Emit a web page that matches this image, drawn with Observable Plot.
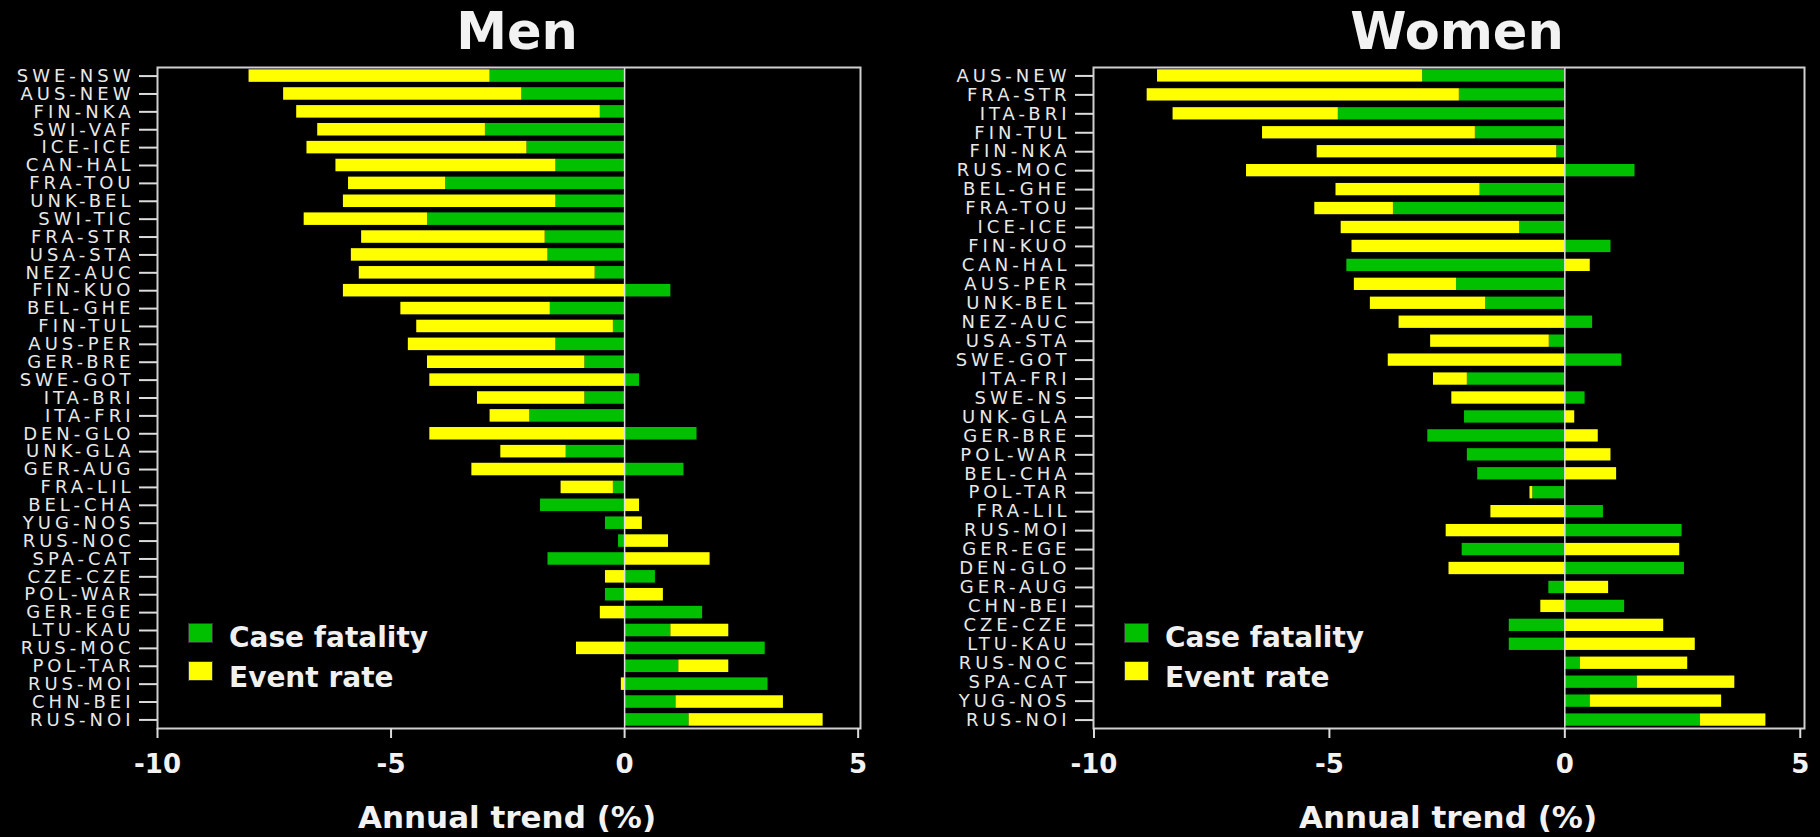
<!DOCTYPE html>
<html>
<head>
<meta charset="utf-8">
<script src="https://cdn.jsdelivr.net/npm/d3@7"></script>
<script src="https://cdn.jsdelivr.net/npm/@observablehq/plot@0.6"></script>
<style>
  html, body { margin: 0; padding: 0; background: #000; }
  #wrap { position: relative; width: 1820px; height: 837px; background: #000; overflow: hidden; font-family: "DejaVu Sans", sans-serif; }
  .panel { position: absolute; top: 0; }
  .title { position: absolute; width: 500px; text-align: center; color: #f2f2f2; font-weight: bold; font-size: 51px; line-height: 1; }
  .xlab { position: absolute; width: 600px; text-align: center; color: #f2f2f2; font-weight: bold; font-size: 31px; line-height: 1.1; }
  .leg { position: absolute; color: #f0f0f0; font-weight: bold; font-size: 28px; line-height: 1; white-space: nowrap; }
  .sw { position: absolute; width: 25px; height: 20px; box-sizing: border-box; border: 1px solid #333; }
  g[aria-label="y-axis tick label"] text { letter-spacing: 4px; }
</style>
</head>
<body>
<div id="wrap"></div>
<script>
// ---- Data ----
const menCentres = ["SWE-NSW","AUS-NEW","FIN-NKA","SWI-VAF","ICE-ICE","CAN-HAL","FRA-TOU","UNK-BEL","SWI-TIC","FRA-STR","USA-STA","NEZ-AUC","FIN-KUO","BEL-GHE","FIN-TUL","AUS-PER","GER-BRE","SWE-GOT","ITA-BRI","ITA-FRI","DEN-GLO","UNK-GLA","GER-AUG","FRA-LIL","BEL-CHA","YUG-NOS","RUS-NOC","SPA-CAT","CZE-CZE","POL-WAR","GER-EGE","LTU-KAU","RUS-MOC","POL-TAR","RUS-MOI","CHN-BEI","RUS-NOI"];
const menCaseFatality = [-2.88,-2.20,-0.52,-2.98,-2.09,-1.47,-3.83,-1.47,-4.22,-1.70,-1.64,-0.63,0.99,-1.59,-0.24,-1.47,-0.85,0.32,-0.85,-2.03,1.55,-1.25,1.27,-0.24,-1.80,-0.41,-0.13,-1.64,0.66,-0.41,1.67,0.99,3.01,1.16,3.07,1.10,1.38];
const menEventRate = [-5.16,-5.10,-6.50,-3.59,-4.71,-4.71,-2.08,-4.55,-2.64,-3.93,-4.21,-5.05,-6.02,-3.20,-4.21,-3.16,-3.37,-4.17,-2.30,-0.85,-4.17,-1.40,-3.27,-1.12,0.32,0.38,0.94,1.83,-0.41,0.83,-0.52,1.24,-1.03,1.07,-0.07,2.30,2.87];

const womenCentres = ["AUS-NEW","FRA-STR","ITA-BRI","FIN-TUL","FIN-NKA","RUS-MOC","BEL-GHE","FRA-TOU","ICE-ICE","FIN-KUO","CAN-HAL","AUS-PER","UNK-BEL","NEZ-AUC","USA-STA","SWE-GOT","ITA-FRI","SWE-NS","UNK-GLA","GER-BRE","POL-WAR","BEL-CHA","POL-TAR","FRA-LIL","RUS-MOI","GER-EGE","DEN-GLO","GER-AUG","CHN-BEI","CZE-CZE","LTU-KAU","RUS-NOC","SPA-CAT","YUG-NOS","RUS-NOI"];
const womenCaseFatality = [-3.02,-2.24,-4.81,-1.90,-0.17,1.49,-1.80,-3.64,-0.96,0.98,-4.63,-2.30,-1.68,0.59,-0.33,1.21,-2.07,0.43,-2.13,-2.91,-2.07,-1.85,-0.68,0.82,2.49,-2.18,2.54,-0.34,1.27,-1.18,-1.18,0.33,1.54,0.54,2.88];
const womenEventRate = [-5.63,-6.63,-3.51,-4.52,-5.09,-6.76,-3.06,-1.67,-3.79,-4.52,0.54,-2.17,-2.45,-3.52,-2.52,-3.75,-0.72,-2.40,0.21,0.71,0.98,1.10,-0.06,-1.57,-2.52,2.44,-2.46,0.93,-0.51,2.10,2.77,2.28,2.07,2.79,1.39];

const xTicks = [-10, -5, 0, 5];
const seriesNames = ["Case fatality", "Event rate"];
const seriesColors = ["#00c000", "#ffff00"];

function rows(centres, fatality, events) {
  return centres.flatMap((c, i) => [
    {centre: c, series: seriesNames[0], value: fatality[i]},
    {centre: c, series: seriesNames[1], value: events[i]}
  ]);
}

function panel({centres, fatality, events, width, marginLeft, marginRight, xDomain, padInner, padOuter}) {
  return Plot.plot({
    width, height: 837,
    marginTop: 67, marginBottom: 109, marginLeft, marginRight,
    style: {background: "#000", color: "#e6e6e6", overflow: "visible"},
    x: {domain: xDomain, ticks: xTicks},
    y: {domain: centres, paddingInner: padInner, paddingOuter: padOuter, round: false},
    color: {domain: seriesNames, range: seriesColors},
    marks: [
      Plot.barX(rows(centres, fatality, events), Plot.stackX({
        y: "centre", x: "value", fill: "series", order: null
      })),
      Plot.ruleX([0], {stroke: "#e0e0e0", strokeWidth: 1.5}),
      Plot.frame({stroke: "#cfcfcf", strokeWidth: 2}),
      Plot.axisY({
        tickSize: 18, tickPadding: 5, stroke: "#dcdcdc", strokeWidth: 2,
        fontSize: 18, fontFamily: "DejaVu Sans", fill: "#e8e8e8", label: null
      }),
      Plot.axisX({
        ticks: xTicks, tickSize: 10, tickPadding: 16, stroke: "#dcdcdc", strokeWidth: 2,
        tickFormat: d => String(d), fontSize: 26, fontWeight: "bold",
        fontFamily: "DejaVu Sans", fill: "#f2f2f2", label: null
      })
    ]
  });
}

const wrap = document.getElementById("wrap");

const men = panel({centres: menCentres, fatality: menCaseFatality, events: menEventRate,
  width: 900, marginLeft: 157, marginRight: 40, xDomain: [-10, 5.05], padInner: 0.3, padOuter: 0.13});
men.classList.add("panel"); men.style.left = "0px";
wrap.appendChild(men);

const women = panel({centres: womenCentres, fatality: womenCaseFatality, events: womenEventRate,
  width: 920, marginLeft: 193, marginRight: 16, xDomain: [-10.01, 5.09], padInner: 0.35, padOuter: 0.12});
women.classList.add("panel"); women.style.left = "900px";
wrap.appendChild(women);

function addText(cls, text, left, top) {
  const d = document.createElement("div");
  d.className = cls; d.textContent = text;
  d.style.left = left + "px"; d.style.top = top + "px";
  wrap.appendChild(d);
}
addText("title", "Men", 517 - 250, 6);
addText("title", "Women", 1457 - 250, 6);
addText("xlab", "Annual trend (%)", 507 - 300, 800);
addText("xlab", "Annual trend (%)", 1448 - 300, 800);

function legend(x0, textX) {
  seriesNames.forEach((name, i) => {
    const s = document.createElement("div");
    s.className = "sw";
    s.style.left = x0 + "px"; s.style.top = (623 + i * 38) + "px";
    s.style.background = seriesColors[i];
    wrap.appendChild(s);
    addText("leg", name, textX, 624 + i * 40);
  });
}
legend(188, 229);
legend(1124, 1165);
</script>
</body>
</html>
